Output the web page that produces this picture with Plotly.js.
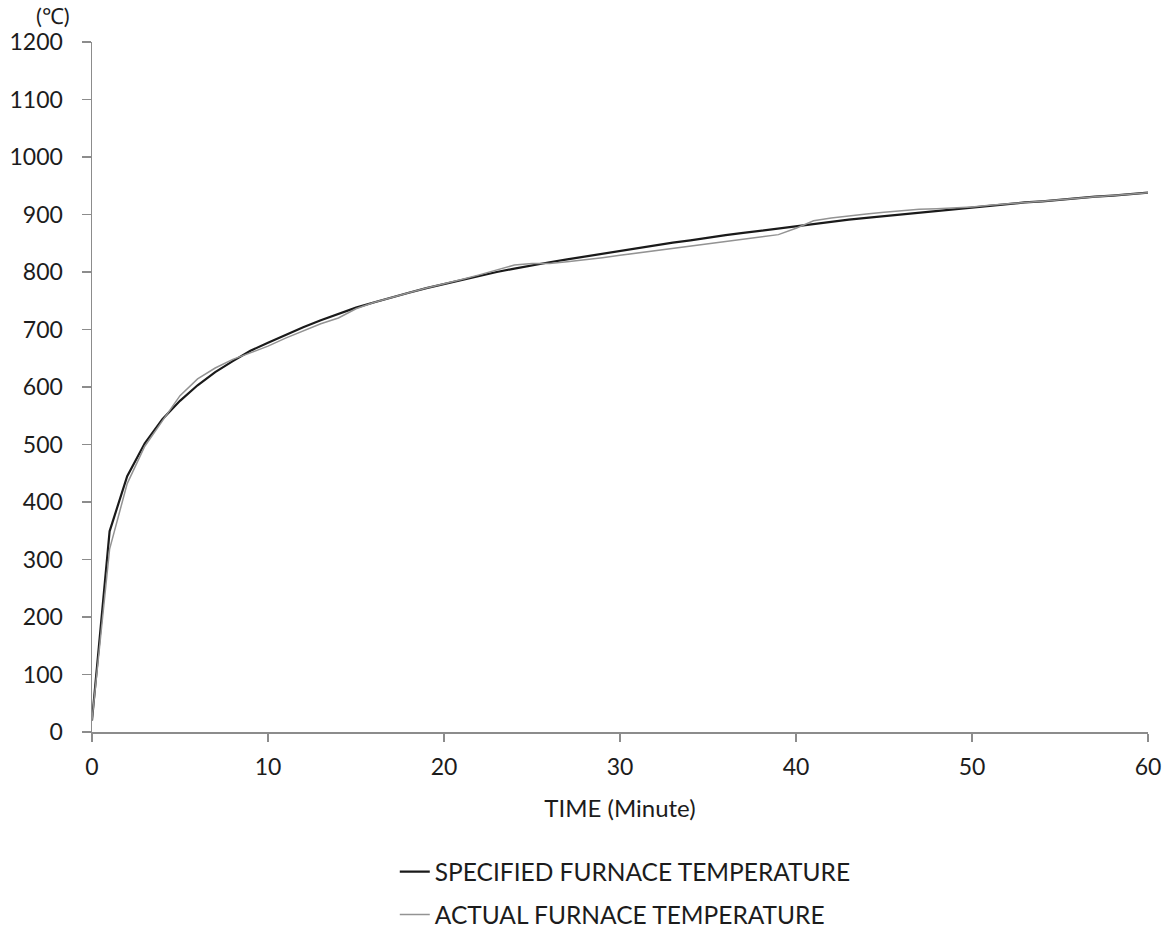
<!DOCTYPE html>
<html>
<head>
<meta charset="utf-8">
<script src="https://cdn.plot.ly/plotly-3.0.1.min.js"></script>
<style>html,body{margin:0;padding:0;background:#fff;}#chart{width:1171px;height:930px;}</style>
</head>
<body>
<div id="chart"></div>
<script>
// Time in minutes
const timeMin = [0,1,2,3,4,5,6,7,8,9,10,11,12,13,14,15,16,17,18,19,20,21,22,23,24,25,26,27,28,29,30,31,32,33,34,35,36,37,38,39,40,41,42,43,44,45,46,47,48,49,50,51,52,53,54,55,56,57,58,59,60];
// Specified furnace temperature (°C)
const specifiedTemp = [20,349,445,502,544,576,603,626,645,663,677,691,704,716,727,738,747,756,764,772,779,787,794,800,806,812,817,822,827,832,837,842,846,851,855,860,864,868,872,876,880,883,887,891,894,897,901,904,907,910,913,916,919,921,923,926,929,931,933,935,938];
// Actual furnace temperature (°C)
const actualTemp = [20,318,432,497,541,585,614,633,648,659,671,685,698,710,720,736,747,756,764,772,779,787,795,804,812,815,815,818,821,825,829,833,837,841,845,849,853,857,861,865,876,889,894,898,901,904,907,909,910,911,913,916,919,921,923,926,929,931,933,935,938];

const xTicks = [0,10,20,30,40,50,60];
const yTicks = [0,100,200,300,400,500,600,700,800,900,1000,1100,1200];
const legendNames = ["SPECIFIED FURNACE TEMPERATURE","ACTUAL FURNACE TEMPERATURE"];

const FONT = "Lato, 'Open Sans', sans-serif";
const TXT = '#1c1c1c';

const traces = [
  {x: timeMin, y: specifiedTemp, type: 'scatter', mode: 'lines', name: legendNames[0],
   legendgroup: 'a', line: {color: '#1a1a1a', width: 2.2}},
  {x: timeMin, y: actualTemp, type: 'scatter', mode: 'lines', name: legendNames[1],
   legendgroup: 'b', line: {color: '#939393', width: 1.5}}
];

const layout = {
  width: 1171, height: 930,
  margin: {l: 92, r: 23, t: 42, b: 198, autoexpand: false},
  paper_bgcolor: '#ffffff', plot_bgcolor: '#ffffff',
  font: {family: FONT, color: TXT, size: 23},
  showlegend: true,
  legend: {
    orientation: 'v', x: 0.505, xanchor: 'center', y: -0.170, yanchor: 'top',
    font: {family: FONT, size: 24.5, color: TXT},
    traceorder: 'grouped', tracegroupgap: 8, bgcolor: 'rgba(0,0,0,0)'
  },
  xaxis: {
    range: [0, 60], tickvals: xTicks, ticktext: xTicks.map(String),
    showgrid: false, zeroline: false, showline: true, linecolor: '#8c8c8c', linewidth: 1.5,
    ticks: 'outside', ticklen: 8, tickcolor: '#8c8c8c', tickwidth: 1.5,
    tickfont: {family: FONT, size: 23, color: TXT},
    ticklabelstandoff: 6, automargin: false,
    title: {text: 'TIME (Minute)', font: {family: FONT, size: 24, color: TXT}, standoff: 21},
    fixedrange: true
  },
  yaxis: {
    range: [0, 1200], tickvals: yTicks, ticktext: yTicks.map(String),
    showgrid: false, zeroline: false, showline: true, linecolor: '#8c8c8c', linewidth: 1.5,
    ticks: 'outside', ticklen: 9, tickcolor: '#8c8c8c', tickwidth: 1.5,
    tickfont: {family: FONT, size: 23, color: TXT},
    ticklabelstandoff: 14, automargin: false,
    fixedrange: true
  },
  annotations: [
    {text: '(℃)', xref: 'paper', yref: 'paper', x: -0.037, y: 1.038, xanchor: 'center', yanchor: 'middle',
     showarrow: false, font: {family: FONT, size: 22, color: TXT}}
  ]
};

Plotly.newPlot('chart', traces, layout, {displayModeBar: false, staticPlot: true});
</script>
</body>
</html>
